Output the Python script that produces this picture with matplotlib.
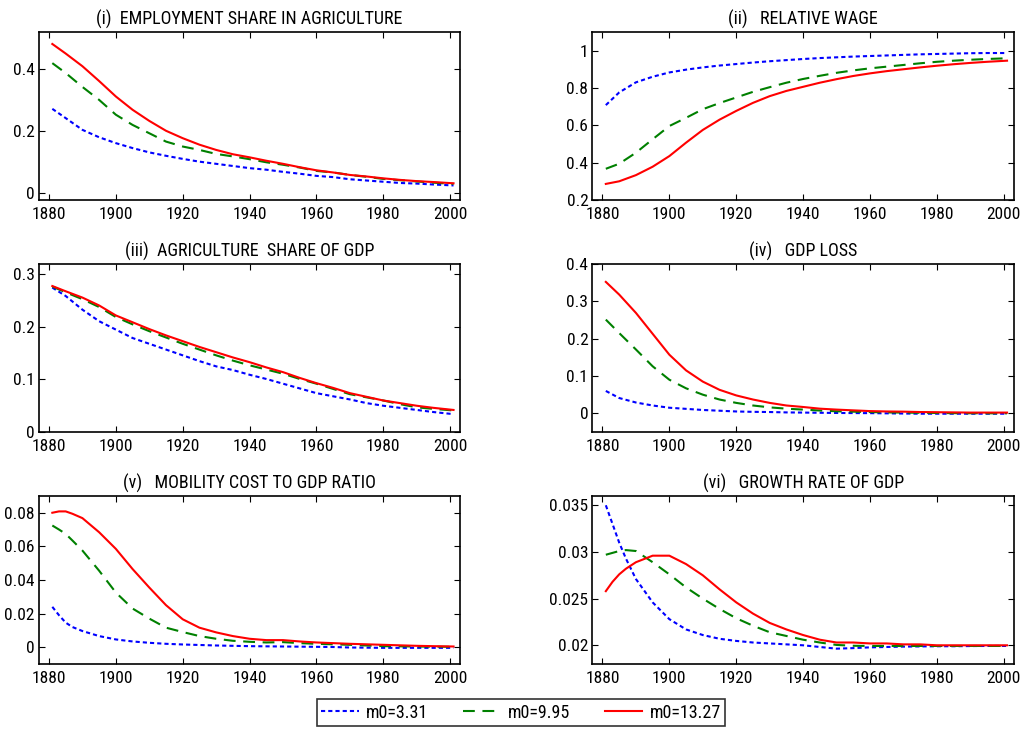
import numpy as np
import matplotlib
matplotlib.use("Agg")
import matplotlib.pyplot as plt
from matplotlib.lines import Line2D

plt.rcParams['font.family'] = ['Roboto Condensed', 'Liberation Sans', 'DejaVu Sans']
plt.rcParams['lines.scale_dashes'] = False

# simulated paths for three initial mobility costs
years = [1881, 1885, 1890, 1895, 1900, 1905, 1910, 1915, 1920, 1925, 1930, 1935, 1940,
         1945, 1950, 1955, 1960, 1965, 1970, 1975, 1980, 1985, 1990, 1995, 2001]
years_fine = [1881, 1883, 1885, 1887, 1890, 1895, 1900, 1905, 1910, 1915, 1920, 1925, 1930,
              1935, 1940, 1945, 1950, 1955, 1960, 1965, 1970, 1975, 1980, 1985, 1990, 1995, 2001]

labels = ['m0=3.31', 'm0=9.95', 'm0=13.27']

# (i) employment share in agriculture
emp_low = [0.271, 0.241, 0.203, 0.179, 0.160, 0.144, 0.130, 0.119, 0.109, 0.100, 0.093, 0.086, 0.079,
           0.074, 0.067, 0.061, 0.054, 0.050, 0.043, 0.039, 0.035, 0.031, 0.029, 0.026, 0.023]
emp_mid = [0.419, 0.387, 0.342, 0.300, 0.252, 0.219, 0.192, 0.165, 0.149, 0.138, 0.125, 0.117, 0.108,
           0.098, 0.090, 0.081, 0.070, 0.065, 0.057, 0.051, 0.044, 0.040, 0.036, 0.032, 0.028]
emp_high = [0.481, 0.450, 0.409, 0.361, 0.311, 0.268, 0.232, 0.200, 0.176, 0.155, 0.138, 0.124, 0.114,
            0.103, 0.093, 0.082, 0.072, 0.065, 0.057, 0.052, 0.046, 0.041, 0.037, 0.034, 0.030]

# (ii) relative wage
wage_low = [0.708, 0.776, 0.830, 0.860, 0.883, 0.898, 0.910, 0.920, 0.928, 0.936, 0.943, 0.949, 0.955,
            0.960, 0.964, 0.968, 0.971, 0.974, 0.977, 0.980, 0.982, 0.984, 0.986, 0.987, 0.987]
wage_mid = [0.367, 0.394, 0.453, 0.525, 0.596, 0.640, 0.686, 0.719, 0.749, 0.779, 0.804, 0.828, 0.848,
            0.865, 0.881, 0.894, 0.905, 0.914, 0.923, 0.932, 0.940, 0.946, 0.951, 0.955, 0.959]
wage_high = [0.286, 0.300, 0.333, 0.378, 0.435, 0.507, 0.575, 0.630, 0.677, 0.720, 0.756, 0.784, 0.806,
             0.828, 0.847, 0.864, 0.878, 0.890, 0.900, 0.910, 0.919, 0.927, 0.934, 0.940, 0.946]

# (iii) agriculture share of GDP
gdpsh_low = [0.275, 0.259, 0.233, 0.211, 0.195, 0.179, 0.168, 0.157, 0.146, 0.135, 0.125, 0.118, 0.109,
             0.101, 0.092, 0.083, 0.074, 0.068, 0.062, 0.055, 0.050, 0.046, 0.042, 0.038, 0.034]
gdpsh_mid = [0.277, 0.266, 0.253, 0.238, 0.219, 0.205, 0.192, 0.180, 0.168, 0.157, 0.146, 0.136, 0.127,
             0.119, 0.111, 0.101, 0.092, 0.082, 0.072, 0.066, 0.060, 0.053, 0.047, 0.044, 0.041]
gdpsh_high = [0.278, 0.268, 0.256, 0.241, 0.222, 0.209, 0.196, 0.184, 0.173, 0.162, 0.152, 0.142, 0.133,
              0.123, 0.114, 0.103, 0.093, 0.084, 0.074, 0.067, 0.060, 0.055, 0.050, 0.046, 0.042]

# (iv) GDP loss
loss_low = [0.060, 0.041, 0.029, 0.021, 0.015, 0.012, 0.009, 0.007, 0.005, 0.004, 0.0035, 0.0025, 0.002,
            0.0015, 0.001, 0.0007, 0.0005, 0.0, -0.0005, -0.001, -0.001, -0.001, -0.001, -0.001, -0.001]
loss_mid = [0.251, 0.215, 0.171, 0.126, 0.090, 0.067, 0.050, 0.037, 0.028, 0.021, 0.016, 0.0125, 0.010,
            0.0075, 0.0055, 0.0045, 0.0035, 0.0025, 0.002, 0.0015, 0.001, 0.0005, 0.0003, 0.0001, 0.0]
loss_high = [0.352, 0.318, 0.269, 0.213, 0.157, 0.115, 0.085, 0.063, 0.048, 0.037, 0.028, 0.021, 0.017,
             0.0125, 0.010, 0.008, 0.006, 0.005, 0.0045, 0.0035, 0.003, 0.0025, 0.002, 0.002, 0.002]

# (v) mobility cost to GDP ratio
mob_low = [0.024, 0.019, 0.0146, 0.012, 0.0096, 0.0066, 0.0046, 0.0034, 0.0026, 0.002, 0.0016, 0.0013,
           0.001, 0.0008, 0.0006, 0.0005, 0.0004, 0.0003, 0.0002, 0.0001, -0.0002, -0.0003, -0.0004,
           -0.0004, -0.0004, -0.0004, -0.0004]
mob_mid = [0.0724, 0.070, 0.0674, 0.0635, 0.0575, 0.0455, 0.0325, 0.023, 0.017, 0.0116, 0.009, 0.0066,
           0.005, 0.0038, 0.0032, 0.0028, 0.003, 0.0024, 0.002, 0.0017, 0.0014, 0.001, 0.0006, 0.0005,
           0.0004, 0.0003, 0.0002]
mob_high = [0.080, 0.0808, 0.0808, 0.0794, 0.0768, 0.0684, 0.0585, 0.0465, 0.0355, 0.0250, 0.0166, 0.0116,
            0.0088, 0.0066, 0.005, 0.0042, 0.0042, 0.0034, 0.0028, 0.0024, 0.002, 0.0017, 0.0014, 0.0011,
            0.0008, 0.0006, 0.0004]

# (vi) growth rate of GDP
gr_low = [0.035, 0.033, 0.031, 0.0293, 0.0271, 0.0246, 0.0228, 0.0217, 0.0211, 0.0207, 0.02047, 0.0203,
          0.0202, 0.0201, 0.0200, 0.01982, 0.01964, 0.0197, 0.01978, 0.01982, 0.01986, 0.01988, 0.0199,
          0.0199, 0.01992, 0.01993, 0.01993]
gr_mid = [0.0297, 0.0299, 0.0301, 0.0302, 0.0301, 0.0289, 0.0276, 0.0262, 0.0250, 0.0239, 0.0229, 0.0221,
          0.0214, 0.0210, 0.0206, 0.0203, 0.02004, 0.01995, 0.01993, 0.01993, 0.01993, 0.01993, 0.01993,
          0.01993, 0.01993, 0.01993, 0.01993]
gr_high = [0.0258, 0.0268, 0.0276, 0.0282, 0.0289, 0.0296, 0.0296, 0.0287, 0.0275, 0.0260, 0.0246, 0.0234,
           0.0224, 0.0217, 0.0211, 0.0206, 0.0203, 0.0203, 0.0202, 0.0202, 0.0201, 0.0201, 0.0200, 0.0200,
           0.0200, 0.0200, 0.0200]

panels = [
    ("(i)  EMPLOYMENT SHARE IN AGRICULTURE", years, (emp_low, emp_mid, emp_high),
     (-0.024, 0.52), [0, 0.2, 0.4], ['0', '0.2', '0.4']),
    ("(ii)   RELATIVE WAGE", years, (wage_low, wage_mid, wage_high),
     (0.2, 1.1), [0.2, 0.4, 0.6, 0.8, 1.0], ['0.2', '0.4', '0.6', '0.8', '1']),
    ("(iii)  AGRICULTURE  SHARE OF GDP", years, (gdpsh_low, gdpsh_mid, gdpsh_high),
     (0, 0.32), [0, 0.1, 0.2, 0.3], ['0', '0.1', '0.2', '0.3']),
    ("(iv)   GDP LOSS", years, (loss_low, loss_mid, loss_high),
     (-0.05, 0.4), [0, 0.1, 0.2, 0.3, 0.4], ['0', '0.1', '0.2', '0.3', '0.4']),
    ("(v)   MOBILITY COST TO GDP RATIO", years_fine, (mob_low, mob_mid, mob_high),
     (-0.01, 0.09), [0, 0.02, 0.04, 0.06, 0.08], ['0', '0.02', '0.04', '0.06', '0.08']),
    ("(vi)   GROWTH RATE OF GDP", years_fine, (gr_low, gr_mid, gr_high),
     (0.018, 0.036), [0.02, 0.025, 0.03, 0.035], ['0.02', '0.025', '0.03', '0.035']),
]

styles = [dict(color='#0000ff', dashes=(3.0, 2.2)),
          dict(color='#008000', dashes=(8.5, 5.5)),
          dict(color='#ff0000', linestyle='-')]

fig = plt.figure(figsize=(10.25, 7.29), dpi=100)

lefts = [0.038, 0.578]
bottoms = [0.7257, 0.4074, 0.0892]
w, h = 0.411, 0.2305

for k, (title, yrs, series, ylim, yt, ytl) in enumerate(panels):
    ax = fig.add_axes([lefts[k % 2], bottoms[k // 2], w, h])
    for vals, st in zip(series, styles):
        ax.plot(yrs, vals, lw=1.5, **st)
    ax.set_xlim(1877, 2003)
    ax.set_ylim(*ylim)
    ax.set_xticks([1880, 1900, 1920, 1940, 1960, 1980, 2000])
    ax.set_yticks(yt)
    ax.set_yticklabels(ytl)
    ax.tick_params(direction='in', top=True, right=True, length=4, width=0.8,
                   labelsize=12.5)
    ax.tick_params(axis='x', pad=5)
    ax.tick_params(axis='y', pad=3)
    for sp in ax.spines.values():
        sp.set_linewidth(1.2)
    ax.set_title(title, fontsize=13, pad=5)

handles = [Line2D([], [], lw=1.5, **st) for st in styles]
leg = fig.legend(handles, labels, loc='center', ncol=3, fontsize=13, frameon=True,
                 fancybox=False, edgecolor='black', handlelength=2.1, handletextpad=0.4,
                 columnspacing=1.9, borderpad=0.25,
                 bbox_to_anchor=(521 / 1025, 1 - 712.5 / 729))
leg.get_frame().set_linewidth(1.2)

fig.savefig('out.png', dpi=100)
